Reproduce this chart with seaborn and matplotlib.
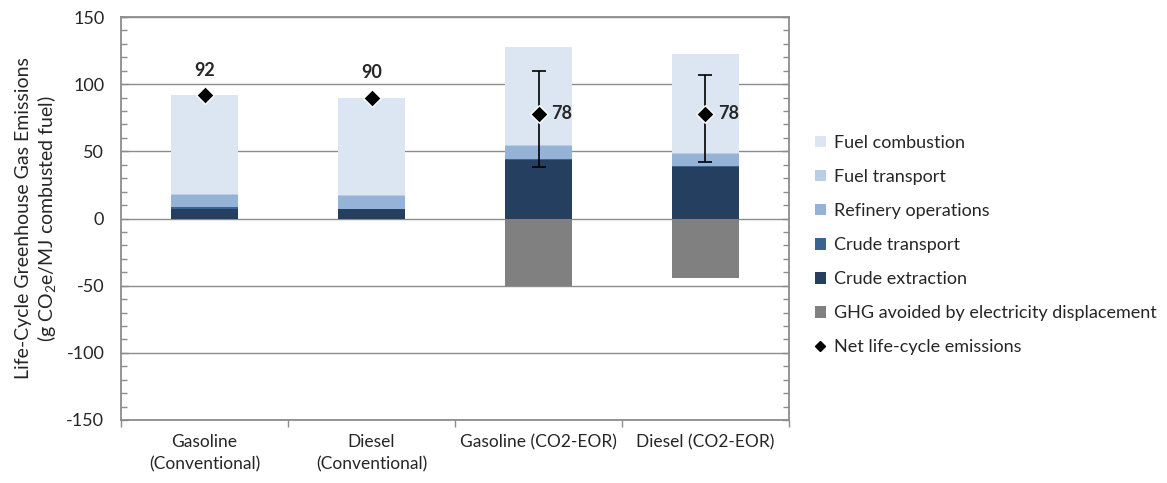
import numpy as np
import pandas as pd
import matplotlib
matplotlib.use("Agg")
import matplotlib.pyplot as plt
from matplotlib.patches import Patch
from matplotlib.lines import Line2D
from matplotlib.ticker import MultipleLocator
import seaborn as sns

# --- data -------------------------------------------------------------
categories = ["Gasoline\n(Conventional)", "Diesel\n(Conventional)",
              "Gasoline (CO2-EOR)", "Diesel (CO2-EOR)"]

crude_extraction = [7.3, 6.8, 43.4, 38.3]
crude_transport = [1.0, 0.6, 0.9, 0.8]
refinery_operations = [9.4, 9.6, 9.7, 9.2]
fuel_transport = [0.7, 0.7, 0.7, 0.7]
fuel_combustion = [73.6, 72.3, 73.3, 73.5]
ghg_avoided = [0.0, 0.0, -50.0, -44.5]

net_emissions = [92, 90, 78, 78]
net_low = [np.nan, np.nan, 38, 42]
net_high = [np.nan, np.nan, 110, 107]

# --- style ------------------------------------------------------------
sns.set_theme(style="white")
plt.rcParams["font.family"] = ["Lato", "DejaVu Sans"]
plt.rcParams["mathtext.default"] = "regular"
plt.rcParams["axes.unicode_minus"] = False

grey = "#8c8c8c"
colors = {
    "Fuel combustion": "#dce6f2",
    "Fuel transport": "#b9cde5",
    "Refinery operations": "#95b3d7",
    "Crude transport": "#3a6395",
    "Crude extraction": "#243f60",
    "GHG avoided by electricity displacement": "#808080",
}

fig = plt.figure(figsize=(11.67, 4.83), dpi=100)
ax = fig.add_axes([121 / 1167, 63 / 483, 668 / 1167, 403 / 483])

# horizontal gridlines behind the bars
for yv in range(-150, 151, 50):
    ax.axhline(yv, color=grey, lw=1.0, zorder=0)

# --- stacked bars -----------------------------------------------------
layers = [
    ("Crude extraction", crude_extraction),
    ("Crude transport", crude_transport),
    ("Refinery operations", refinery_operations),
    ("Fuel transport", fuel_transport),
    ("Fuel combustion", fuel_combustion),
]
bottom = np.zeros(len(categories))
for name, vals in layers:
    df = pd.DataFrame({"cat": categories, "val": vals})
    sns.barplot(data=df, x="cat", y="val", color=colors[name], width=0.4,
                bottom=bottom.copy(), errorbar=None, saturation=1,
                linewidth=0, ax=ax, zorder=2)
    bottom += np.array(vals)

df_neg = pd.DataFrame({"cat": categories, "val": ghg_avoided})
sns.barplot(data=df_neg, x="cat", y="val",
            color=colors["GHG avoided by electricity displacement"],
            width=0.4, errorbar=None, saturation=1, linewidth=0, ax=ax, zorder=2)

# --- net emissions markers, ranges and labels -------------------------
xpos = np.arange(len(categories))
low = np.array(net_low, dtype=float)
high = np.array(net_high, dtype=float)
net = np.array(net_emissions, dtype=float)
has_range = ~np.isnan(low)
ax.errorbar(xpos[has_range], net[has_range],
            yerr=[net[has_range] - low[has_range], high[has_range] - net[has_range]],
            fmt="none", ecolor="black", elinewidth=1.2, capsize=5, capthick=1.2,
            zorder=4)
df_net = pd.DataFrame({"x": xpos, "y": net})
sns.scatterplot(data=df_net, x="x", y="y", marker="D", s=80, color="black",
                edgecolor="white", linewidth=1.0, ax=ax, zorder=5, legend=False)

for i, v in enumerate(net_emissions):
    if has_range[i]:
        ax.text(xpos[i] + 0.075, v, f"{v}", ha="left", va="center",
                fontsize=13, fontweight="bold", zorder=6)
    else:
        ax.text(xpos[i], v + 18.5, f"{v}", ha="center", va="center",
                fontsize=13, fontweight="bold", zorder=6)

# --- axes -------------------------------------------------------------
ax.set_xlim(-0.5, len(categories) - 0.5)
ax.set_ylim(-150, 150)
ax.set_xlabel("")
ax.set_ylabel("Life-Cycle Greenhouse Gas Emissions\n(g CO$_2$e/MJ combusted fuel)",
              fontsize=14, labelpad=6, linespacing=1.15)

ax.yaxis.set_major_locator(MultipleLocator(50))
ax.yaxis.set_minor_locator(MultipleLocator(10))
ax.tick_params(axis="y", which="major", labelsize=13, length=5, width=1,
               color=grey, direction="in", left=True, right=True, pad=12)
ax.tick_params(axis="y", which="minor", length=4, width=1, color=grey,
               direction="in", left=True, right=True)

ax.set_xticks(xpos)
ax.set_xticklabels(categories, fontsize=12.5, linespacing=1.5)
ax.set_xticks(np.arange(-0.5, len(categories), 1.0), minor=True)
ax.tick_params(axis="x", which="major", length=0, pad=10)
ax.tick_params(axis="x", which="minor", length=5, width=1, color=grey,
               direction="out", bottom=True)

for side in ["left", "right", "top", "bottom"]:
    ax.spines[side].set_visible(True)
    ax.spines[side].set_color(grey)
    ax.spines[side].set_linewidth(1.3)

# --- legend -----------------------------------------------------------
handles = [Patch(facecolor=c, edgecolor="none", label=n) for n, c in colors.items()]
handles.append(Line2D([], [], marker="D", color="black", linestyle="none",
                      markersize=5, label="Net life-cycle emissions"))
fig.legend(handles=handles, loc="upper left",
           bbox_to_anchor=(815 / 1167, (483 - 135) / 483),
           frameon=False, fontsize=13, handlelength=0.6, handleheight=0.6,
           handletextpad=0.45, labelspacing=1.0, borderaxespad=0,
           borderpad=0)

fig.savefig("out.png", dpi=100)
